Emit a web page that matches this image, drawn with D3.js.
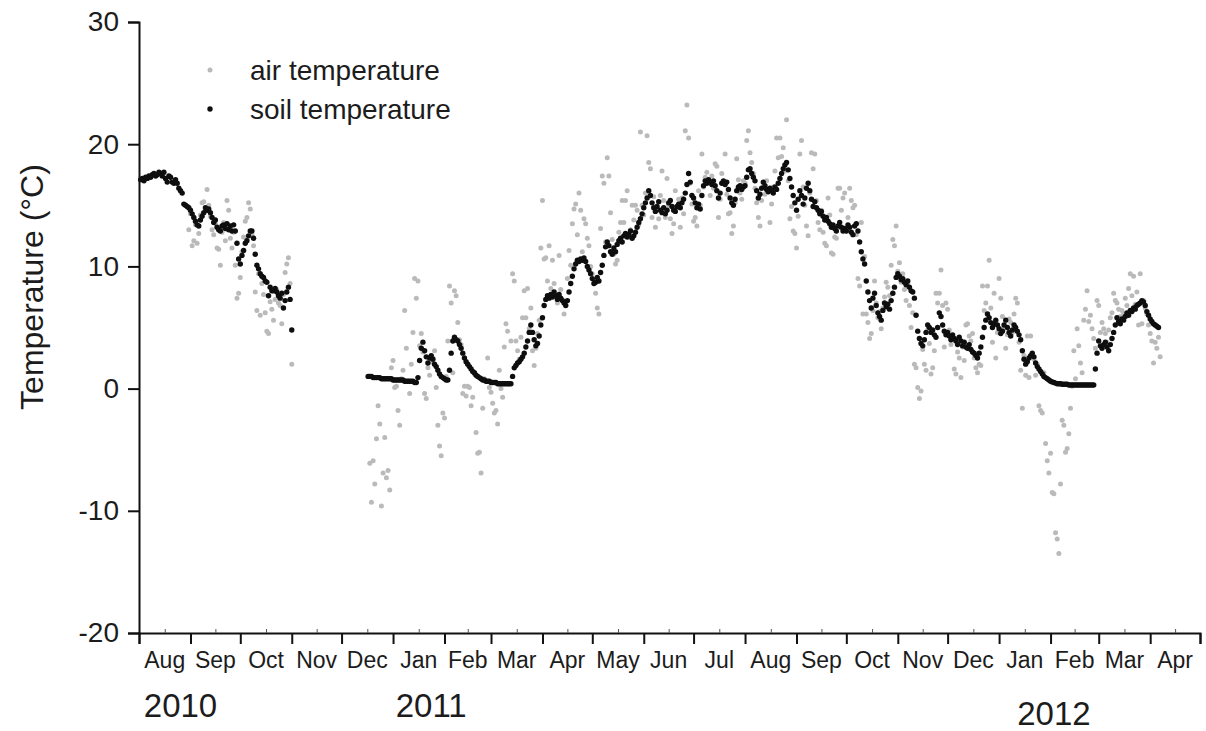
<!DOCTYPE html>
<html>
<head>
<meta charset="utf-8">
<script src="https://cdn.jsdelivr.net/npm/d3@7"></script>
<style>
  body { margin: 0; background: #fff; }
  svg text { font-family: "Liberation Sans", Arial, sans-serif; fill: #1c1c1c; }
</style>
</head>
<body>
<svg id="chart" width="1206" height="731"></svg>
<script>
// Daily mean temperatures (°C). Each series starts on the given date, one value per day.
const soil2010Start = "2010-08-02";
const soil2010 = [
  17.1,17.2,17.0,17.3,17.2,17.4,17.3,17.5,17.6,17.4,17.5,17.7,17.6,17.4,17.7,
  17.2,16.9,17.4,17.3,16.9,16.8,17.1,16.8,
  16.4,16.2,16.0,15.1,15.0,14.9,14.8,
  14.6,14.3,14.0,13.7,13.4,13.3,13.8,
  14.1,14.4,14.8,14.6,14.7,14.4,14.0,
  13.6,13.8,13.2,13.0,12.9,13.3,13.4,
  13.1,13.5,13.0,13.3,12.9,13.4,12.9,11.9,10.6,
  10.2,10.9,11.3,11.9,12.1,12.5,12.9,12.9,12.3,11.0,
  10.1,9.8,9.4,9.2,9.1,8.8,8.7,7.6,8.3,8.0,
  8.0,8.2,7.9,7.6,7.4,7.8,6.6,7.2,7.9,8.3,7.3,
  4.8
];

const soil2011Start = "2010-12-17";
const soil2011 = [
  // Dec 2010
  1.0,1.0,1.0,0.9,0.9,0.9,0.9,0.9,0.8,0.8,0.8,0.8,0.8,0.8,0.8,
  // Jan 2011
  0.7,0.7,0.7,0.7,0.7,0.7,0.7,0.6,0.6,0.6,0.6,0.6,0.6,0.5,0.5,
  0.9,2.3,3.3,3.8,3.1,2.6,2.1,2.5,2.7,2.4,2.0,1.8,1.5,1.2,1.0,0.9,
  // Feb
  0.8,0.7,0.7,1.5,2.9,3.9,4.2,4.0,3.9,3.6,3.3,2.9,2.5,2.2,
  2.0,1.8,1.6,1.4,1.3,1.1,1.0,0.9,0.8,0.7,0.7,0.6,0.6,0.6,
  // Mar
  0.5,0.5,0.5,0.5,0.4,0.4,0.4,0.4,0.4,0.4,0.4,0.4,
  0.4,1.0,1.7,1.9,2.1,2.2,2.4,2.6,2.9,3.4,3.9,4.6,5.2,4.6,4.0,3.5,3.7,4.3,5.2,
  // Apr
  5.8,6.8,7.3,7.6,7.4,7.7,7.5,7.9,7.6,7.3,7.7,7.4,7.2,7.0,6.8,7.2,7.9,8.6,9.2,9.8,
  10.2,10.5,10.4,10.6,10.5,10.7,10.4,10.0,9.7,9.4,
  // May
  9.0,8.6,8.7,9.1,8.8,9.5,10.1,10.9,11.6,12.0,11.7,11.2,11.0,11.5,11.2,11.8,
  12.1,12.3,12.0,12.5,12.7,12.4,12.6,12.9,12.3,12.5,12.8,13.2,13.6,13.9,14.3,
  // Jun
  14.8,15.2,15.6,16.2,15.8,15.2,14.8,14.5,14.9,15.3,14.6,14.4,14.8,14.3,14.6,
  15.2,15.4,14.9,14.6,14.5,14.9,15.1,14.8,15.2,15.5,16.0,16.7,17.6,16.9,15.8,
  // Jul
  15.6,15.2,14.8,15.1,14.7,15.8,16.6,17.0,16.8,17.1,16.9,16.7,17.0,16.6,16.2,
  15.6,16.0,16.8,17.0,16.7,16.9,16.3,15.6,15.2,15.0,15.5,16.2,16.5,16.6,16.3,16.5,
  // Aug
  16.6,17.3,17.9,18.0,17.6,17.3,17.0,16.2,15.6,15.9,16.4,16.9,16.6,16.3,16.1,
  16.4,16.2,16.0,16.5,16.3,16.8,17.2,17.6,18.0,18.3,18.5,17.9,17.2,16.5,15.8,15.2,
  // Sep
  14.6,15.5,16.2,15.8,15.1,15.6,16.4,16.8,16.2,15.5,14.9,15.3,14.8,14.6,14.3,
  14.5,14.1,13.8,14.0,13.7,13.5,13.2,13.4,13.1,12.9,13.3,13.6,13.2,12.9,13.1,
  // Oct
  12.9,13.4,13.2,12.8,12.6,13.3,13.5,12.9,12.0,11.2,10.6,10.2,8.8,7.9,7.2,
  6.6,7.4,7.8,6.8,6.2,5.9,5.6,6.4,7.0,6.7,6.9,6.5,7.2,7.8,8.3,9.1,
  // Nov
  9.4,9.2,8.9,9.0,8.7,8.5,8.8,8.3,8.0,7.9,7.4,6.0,4.7,4.1,3.7,
  3.5,4.0,4.6,5.2,5.0,4.6,4.8,4.4,4.2,5.0,6.2,5.9,5.2,4.7,4.4,
  // Dec
  4.6,4.3,4.0,4.4,4.1,3.9,3.6,4.2,3.9,3.5,3.8,3.4,3.3,3.6,3.2,
  3.0,2.9,2.7,2.5,2.9,3.4,4.2,5.0,5.6,6.1,5.8,5.4,5.0,5.3,5.6,5.2,
  // Jan 2012
  4.9,4.5,4.7,5.2,5.6,5.0,4.6,4.3,4.8,5.2,5.0,4.7,4.4,4.0,3.1,
  2.4,2.0,2.2,2.5,2.7,2.9,2.6,2.1,1.8,1.6,1.4,1.2,1.0,0.9,0.8,0.7,
  // Feb
  0.6,0.55,0.5,0.45,0.4,0.4,0.4,0.35,0.35,0.35,0.35,0.3,0.3,0.3,0.3,
  0.3,0.3,0.3,0.3,0.3,0.3,0.3,0.3,0.3,0.3,0.3,0.3,1.6,2.9,
  // Mar
  3.9,3.5,3.3,3.6,3.8,3.4,3.1,3.6,4.1,4.6,5.2,5.8,5.5,5.3,5.7,
  5.6,5.9,6.2,6.0,6.4,6.3,6.6,6.5,6.8,6.9,7.0,7.2,7.1,6.8,6.3,6.0,
  // Apr
  5.7,5.5,5.3,5.2,5.1,5.0
];

const air2010Start = "2010-08-31";
const air2010 = [
  13.0,
  14.3,11.7,12.1,13.4,11.9,12.7,14.2,15.2,15.3,14.6,
  16.3,15.0,14.1,13.0,12.6,13.5,11.5,11.4,10.1,12.8,
  13.6,12.1,15.4,14.6,12.3,11.5,12.8,10.1,7.4,7.8,
  9.1,11.2,12.4,13.7,14.0,15.2,14.7,12.6,11.7,7.9,
  6.4,9.4,6.0,8.6,7.7,6.2,4.7,4.5,7.1,6.5,
  5.6,7.3,8.1,7.0,6.8,5.3,7.7,9.5,10.2,10.7,8.6,
  2.0
];

const air2011Start = "2010-12-18";
const air2011 = [
  // Dec 2010
  -6.1,-9.3,-5.9,-7.8,-4.1,-1.4,-2.9,-9.6,-6.9,-4.0,-7.3,-6.7,-8.3,1.7,
  // Jan 2011
  2.3,0.1,0.2,-1.8,-3.0,0.8,1.5,6.4,3.3,0.6,-0.4,2.0,4.6,9.0,7.4,8.8,
  3.5,4.5,3.0,-0.4,-0.8,1.7,1.1,2.2,2.5,3.1,0.1,-3.0,-4.7,-5.5,-2.0,
  // Feb
  -2.4,1.0,3.9,8.4,7.0,1.3,8.0,7.6,5.4,4.0,3.6,-0.4,0.2,-0.6,
  0.2,0.1,-1.4,-0.7,1.2,-3.6,-5.3,-5.2,-6.9,-1.6,0.8,0.6,2.5,0.1,
  // Mar
  -0.3,-1.2,-2.0,-1.8,-2.9,1.5,0.0,
  -0.7,3.4,5.3,4.7,0.4,3.9,9.4,8.8,3.9,3.1,2.4,4.2,5.8,8.0,5.8,8.2,4.9,6.6,3.1,1.9,3.3,4.5,5.6,11.5,
  // Apr
  15.4,10.6,10.7,8.8,11.7,8.2,10.5,8.6,7.6,7.0,10.9,8.1,7.3,6.1,7.0,
  9.0,11.3,10.1,13.5,14.7,15.1,12.6,16.0,14.6,11.2,13.9,13.5,12.3,11.7,10.0,
  // May
  9.4,8.8,7.8,6.6,6.1,13.1,17.4,16.8,12.0,18.9,17.4,14.4,12.2,11.0,10.2,
  10.5,12.8,13.6,15.4,13.6,15.4,16.2,12.4,13.0,15.0,13.8,15.0,14.6,13.4,21.0,15.0,
  // Jun
  14.2,16.0,20.7,18.5,18.0,14.0,15.7,13.2,14.6,13.9,15.8,17.8,15.4,14.0,17.2,
  15.0,13.9,12.7,13.5,16.2,14.8,15.5,13.2,15.6,14.3,21.1,23.2,20.5,16.8,15.1,
  // Jul
  13.7,14.0,13.3,16.2,15.0,19.2,16.5,17.3,17.7,16.9,15.8,17.4,16.4,18.4,18.2,
  14.0,15.5,17.6,16.8,19.2,15.9,14.3,14.4,12.7,13.3,15.2,18.8,17.1,16.0,15.5,17.0,
  // Aug
  16.8,20.3,21.1,19.3,18.5,17.6,16.4,15.2,14.0,13.3,15.4,16.8,15.9,17.0,16.2,
  13.6,15.1,16.5,17.8,20.5,18.9,20.5,19.0,19.7,17.8,22.0,17.0,13.9,14.9,12.9,12.7,
  // Sep
  11.5,14.1,19.2,20.3,16.5,15.0,13.3,12.5,16.0,19.3,18.0,19.2,15.4,13.6,13.0,
  14.6,12.8,11.9,11.7,15.6,14.2,11.1,11.0,12.4,12.3,16.4,16.4,14.6,15.6,16.0,
  // Oct
  12.9,14.0,16.4,15.4,14.8,15.0,12.6,9.0,8.4,13.6,6.1,10.8,6.1,5.4,4.1,
  4.5,6.4,8.8,7.0,5.8,6.3,4.9,6.6,7.5,8.7,8.3,7.6,10.1,12.2,11.7,13.3,
  // Nov
  9.6,10.3,8.7,9.4,8.1,7.2,8.6,6.8,5.0,6.2,2.0,1.7,0.1,-0.8,-0.2,
  3.2,2.0,1.5,4.8,3.7,1.2,1.7,3.1,7.8,7.0,7.8,9.7,6.8,3.4,7.0,
  // Dec
  6.5,4.8,3.6,4.2,1.6,1.2,3.0,2.5,0.9,3.4,2.3,5.2,5.3,4.3,3.9,
  4.5,2.5,1.7,1.3,2.0,1.9,8.4,6.4,7.0,8.4,10.5,6.6,3.8,7.8,2.5,4.6,
  // Jan 2012
  9.0,7.4,5.9,4.9,3.3,4.4,5.7,5.4,4.6,6.1,7.4,7.0,3.8,1.5,-1.6,
  2.7,1.1,4.3,0.9,4.3,2.6,2.4,1.1,2.0,-1.4,-1.8,-2.0,1.3,-4.5,-5.9,-6.9,
  // Feb
  -5.3,-8.5,-8.6,-11.8,-12.3,-13.5,-7.8,-2.6,-3.0,-5.2,-4.9,-3.7,-1.6,0.2,3.1,
  0.8,4.9,3.5,2.1,1.3,5.6,6.5,8.0,5.5,6.0,4.9,4.1,3.3,7.2,
  // Mar
  6.8,4.6,5.4,4.9,4.5,3.8,4.8,5.8,6.2,7.8,7.2,7.0,6.5,5.9,6.4,
  6.1,7.4,6.8,8.2,9.4,7.6,9.2,6.9,7.9,5.2,9.4,5.3,7.2,6.6,6.1,5.2,
  // Apr
  4.5,3.9,2.1,3.8,3.3,4.2,2.6
];

// Axis labels
const yTicks = [-20, -10, 0, 10, 20, 30];
const monthLabels = ["Aug","Sep","Oct","Nov","Dec","Jan","Feb","Mar","Apr","May","Jun","Jul",
                     "Aug","Sep","Oct","Nov","Dec","Jan","Feb","Mar","Apr"];
const yearLabels = ["2010", "2011", "2012"];
const seriesNames = ["air temperature", "soil temperature"];

// ---------------------------------------------------------------------------
const parse = d3.utcParse("%Y-%m-%d");
const daily = (start, values) => {
  const t0 = parse(start);
  return values.map((v, i) => ({ date: d3.utcDay.offset(t0, i), value: v }));
};

const airData = daily(air2010Start, air2010).concat(daily(air2011Start, air2011));
const soilData = daily(soil2010Start, soil2010).concat(daily(soil2011Start, soil2011));

const svg = d3.select("#chart");
const plotLeft = 139, plotRight = 1200, plotTop = 22, plotBottom = 633;

const x = d3.scaleUtc()
  .domain([parse("2010-08-01"), parse("2012-05-01")])
  .range([plotLeft, plotRight]);
const y = d3.scaleLinear().domain([-20, 30]).range([plotBottom, plotTop]);

const AIR = "#bababa", SOIL = "#0e0e0e";

// points: air underneath, soil on top
svg.append("g").selectAll("circle").data(airData).join("circle")
  .attr("cx", d => x(d.date)).attr("cy", d => y(d.value))
  .attr("r", 2.5).attr("fill", AIR);
svg.append("g").selectAll("circle").data(soilData).join("circle")
  .attr("cx", d => x(d.date)).attr("cy", d => y(d.value))
  .attr("r", 2.7).attr("fill", SOIL);

// y axis (plain hyphen-minus labels)
const yAxis = svg.append("g").attr("transform", `translate(${plotLeft},0)`)
  .call(d3.axisLeft(y).tickValues(yTicks).tickSize(11).tickPadding(9).tickFormat(d => String(d)));
yAxis.select(".domain").attr("stroke", "#111").attr("stroke-width", 2);
yAxis.selectAll(".tick line").attr("stroke", "#111").attr("stroke-width", 2);
yAxis.selectAll(".tick text").attr("font-size", 28).attr("fill", "#1c1c1c")
  .attr("font-family", '"Liberation Sans", Arial, sans-serif');

// x axis: month boundaries below, mid-month marks above
const monthStarts = d3.utcMonth.range(x.domain()[0], d3.utcDay.offset(x.domain()[1], 1));
const mids = monthStarts.slice(0, -1).map((m, i) => new Date((+m + +monthStarts[i + 1]) / 2));

const xAxis = svg.append("g").attr("transform", `translate(0,${plotBottom})`)
  .call(d3.axisBottom(x).tickValues(monthStarts).tickSize(11).tickFormat(""));
xAxis.select(".domain").attr("stroke", "#111").attr("stroke-width", 2);
xAxis.selectAll(".tick line").attr("stroke", "#111").attr("stroke-width", 2);

const xMinor = svg.append("g").attr("transform", `translate(0,${plotBottom})`)
  .call(d3.axisBottom(x).tickValues(mids).tickSize(-4).tickFormat(""));
xMinor.select(".domain").remove();
xMinor.selectAll(".tick line").attr("stroke", "#555").attr("stroke-width", 1);

svg.append("g").selectAll("text").data(mids).join("text")
  .attr("x", d => x(d)).attr("y", 668)
  .attr("text-anchor", "middle").attr("font-size", 23)
  .text((d, i) => monthLabels[i]);

// year captions
const yearAt = [parse("2010-08-26"), parse("2011-01-24"), parse("2012-02-03")];
const yearY = [717, 717, 725];
svg.append("g").selectAll("text").data(yearLabels).join("text")
  .attr("x", (d, i) => x(yearAt[i])).attr("y", (d, i) => yearY[i])
  .attr("text-anchor", "middle").attr("font-size", 33)
  .text(d => d);

// y title
svg.append("text")
  .attr("transform", "translate(43,287) rotate(-90)")
  .attr("text-anchor", "middle").attr("font-size", 32)
  .text("Temperature (°C)");

// legend
const legend = svg.append("g");
[AIR, SOIL].forEach((c, i) => {
  legend.append("circle").attr("cx", 210).attr("cy", 70 + i * 39).attr("r", i ? 2.7 : 2.5).attr("fill", c);
  legend.append("text").attr("x", 250).attr("y", 70 + i * 39).attr("dy", "0.35em")
    .attr("font-size", 28).text(seriesNames[i]);
});
</script>
</body>
</html>
